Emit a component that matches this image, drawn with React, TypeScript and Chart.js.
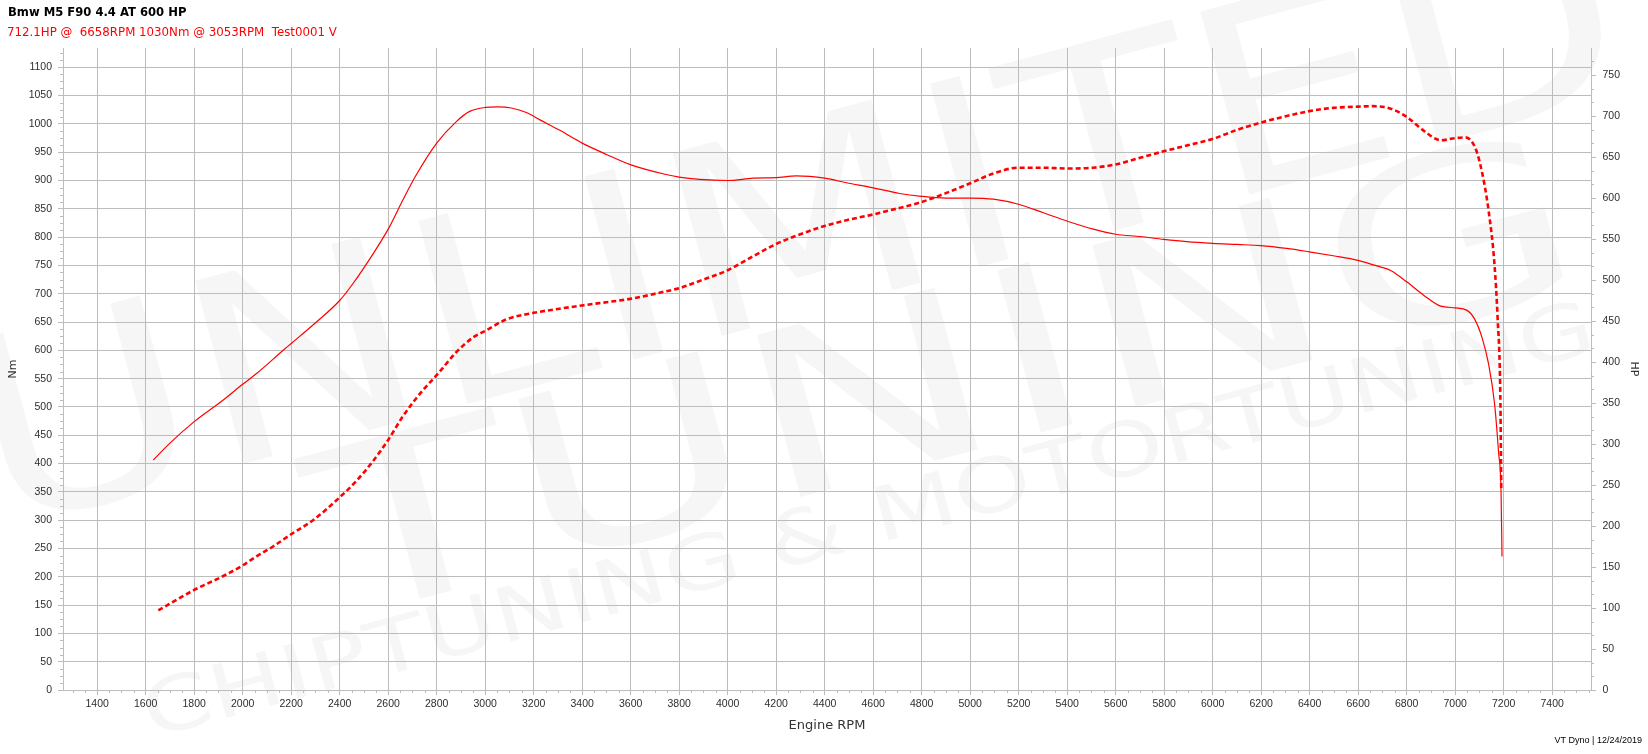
import React, { useEffect, useRef } from 'react';
import { Chart, registerables } from 'chart.js';

Chart.register(...registerables);

const titleText = 'Bmw M5 F90 4.4 AT 600 HP';
const subtitleText = '712.1HP @  6658RPM 1030Nm @ 3053RPM  Test0001 V';
const footerText = 'VT Dyno | 12/24/2019';
const xTitle = 'Engine RPM';
const leftTitle = 'Nm';
const rightTitle = 'HP';

const torqueRpm = [1631, 1700, 1800, 1913, 2000, 2057, 2167, 2200, 2304, 2400, 2455, 2537, 2600, 2661, 2716, 2800, 2881, 2936, 3000, 3053, 3108, 3170, 3226, 3306, 3400, 3500, 3598, 3741, 3800, 3885, 4000, 4105, 4200, 4283, 4400, 4490, 4600, 4709, 4798, 4900, 5000, 5096, 5199, 5302, 5401, 5508, 5600, 5700, 5798, 5893, 5999, 6099, 6198, 6305, 6398, 6497, 6599, 6693, 6734, 6800, 6871, 6940, 7000, 7047, 7079, 7111, 7138, 7162, 7179, 7189, 7193];
const torqueNm = [406, 436, 474, 510, 540, 559, 600, 612, 650, 688, 718, 770, 814, 866, 910, 966, 1004, 1022, 1029, 1030, 1028, 1020, 1007, 989, 966, 946, 928, 911, 906, 902, 900, 904, 905, 908, 904, 896, 887, 877, 872, 869, 869, 867, 858, 843, 828, 814, 805, 801, 796, 792, 789, 787, 785, 780, 774, 767, 759, 747, 741, 721, 697, 678, 675, 671, 656, 622, 575, 507, 419, 352, 236];

const powerRpm = [1652, 1800, 1920, 2000, 2057, 2125, 2200, 2290, 2400, 2469, 2537, 2600, 2661, 2744, 2800, 2881, 2950, 3000, 3087, 3200, 3306, 3400, 3500, 3598, 3741, 3800, 3885, 4000, 4105, 4200, 4283, 4400, 4490, 4600, 4709, 4798, 4900, 5000, 5096, 5199, 5302, 5401, 5508, 5600, 5700, 5798, 5893, 5999, 6099, 6198, 6305, 6398, 6497, 6599, 6658, 6734, 6800, 6871, 6940, 7000, 7042, 7083, 7111, 7138, 7162, 7175, 7186, 7190];
const powerHp = [97, 122, 139, 152, 163, 175, 190, 207, 235, 255, 279, 305, 334, 366, 384, 412, 430, 438, 452, 460, 465, 469, 473, 477, 486, 490, 499, 512, 529, 544, 554, 566, 573, 580, 588, 595, 606, 618, 630, 637, 637, 636, 637, 641, 649, 657, 664, 672, 683, 692, 700, 706, 710, 711.5, 712.1, 709, 699, 682, 670.5, 673, 674, 661, 631, 584, 519, 453, 360, 244];

const rpmTicks = [1400, 1600, 1800, 2000, 2200, 2400, 2600, 2800, 3000, 3200, 3400, 3600, 3800, 4000, 4200, 4400, 4600, 4800, 5000, 5200, 5400, 5600, 5800, 6000, 6200, 6400, 6600, 6800, 7000, 7200, 7400];
const nmTicks = [0, 50, 100, 150, 200, 250, 300, 350, 400, 450, 500, 550, 600, 650, 700, 750, 800, 850, 900, 950, 1000, 1050, 1100];
const hpTicks = [0, 50, 100, 150, 200, 250, 300, 350, 400, 450, 500, 550, 600, 650, 700, 750];

const rpmRange = [1259, 7560];
const nmRange = [0, 1134];
const hpRange = [0, 783];
const rpmMinorStep = 50;
const nmMinorStep = 12.5;
const hpMinorStep = 50 / 3;

const GRID = '#bcbcbc';
const TICK_COLOR = '#2e2e2e';
const RED = '#ff0000';

const watermarkPlugin = {
  id: 'watermark',
  beforeDraw(chart: any) {
    const ctx = chart.ctx;
    const rows: [string, number, number, number, number][] = [
      ['UNLIMITED', 800, 245, 1700, 260],
      ['TUNING', 950, 395, 1300, 230],
      ['CHIPTUNING & MOTORTUNING', 870, 525, 1500, 75],
    ];
    ctx.save();
    for (const [text, cx, cy, len, size] of rows) {
      ctx.save();
      ctx.translate(cx, cy);
      ctx.rotate((-15 * Math.PI) / 180);
      ctx.font = `${size}px "DejaVu Sans"`;
      const w = ctx.measureText(text).width;
      ctx.scale(len / w, 1);
      ctx.textAlign = 'center';
      ctx.textBaseline = 'middle';
      ctx.fillStyle = '#f6f6f6';
      ctx.fillText(text, 0, 0);
      ctx.restore();
    }
    ctx.restore();
  },
};

const textPlugin = {
  id: 'headerFooter',
  afterDraw(chart: any) {
    const ctx = chart.ctx;
    ctx.save();
    ctx.textBaseline = 'middle';
    ctx.textAlign = 'left';
    ctx.fillStyle = '#000000';
    ctx.font = 'bold 11.6px "DejaVu Sans"';
    ctx.fillText(titleText, 8, 13);
    ctx.fillStyle = RED;
    ctx.font = '11.8px "DejaVu Sans"';
    ctx.fillText(subtitleText, 7, 33);
    ctx.fillStyle = '#000000';
    ctx.font = '9px "Liberation Sans"';
    ctx.textAlign = 'right';
    ctx.fillText(footerText, 1642, 741);
    ctx.restore();
  },
};

const minorTickPlugin = {
  id: 'minorTicks',
  afterDraw(chart: any) {
    const ctx = chart.ctx;
    const xs = chart.scales.x;
    const yl = chart.scales.yNm;
    const yr = chart.scales.yHp;
    ctx.save();
    ctx.strokeStyle = GRID;
    ctx.lineWidth = 1;
    ctx.beginPath();
    for (let v = Math.ceil(rpmRange[0] / rpmMinorStep) * rpmMinorStep; v <= rpmRange[1]; v += rpmMinorStep) {
      if (v % 200 === 0) continue;
      const px = Math.round(xs.getPixelForValue(v)) + 0.5;
      ctx.moveTo(px, xs.top);
      ctx.lineTo(px, xs.top + 3);
    }
    for (let i = 1; i * nmMinorStep <= nmRange[1]; i++) {
      if (i % 4 === 0) continue;
      const py = Math.round(yl.getPixelForValue(i * nmMinorStep)) + 0.5;
      ctx.moveTo(yl.right - 3, py);
      ctx.lineTo(yl.right, py);
    }
    for (let i = 1; i * hpMinorStep <= hpRange[1]; i++) {
      if (i % 3 === 0) continue;
      const py = Math.round(yr.getPixelForValue(i * hpMinorStep)) + 0.5;
      ctx.moveTo(yr.left, py);
      ctx.lineTo(yr.left + 3, py);
    }
    ctx.stroke();
    ctx.restore();
  },
};

const tickFont = { family: '"Liberation Sans"', size: 10.5 };

export default function App() {
  const canvasRef = useRef<HTMLCanvasElement | null>(null);

  useEffect(() => {
    if (!canvasRef.current) return;
    const chart = new Chart(canvasRef.current, {
      type: 'line',
      data: {
        datasets: [
          {
            label: 'Nm',
            data: torqueRpm.map((x, i) => ({ x, y: torqueNm[i] })),
            yAxisID: 'yNm',
            borderColor: RED,
            borderWidth: 1.2,
            pointRadius: 0,
            cubicInterpolationMode: 'monotone',
            fill: false,
          },
          {
            label: 'HP',
            data: powerRpm.map((x, i) => ({ x, y: powerHp[i] })),
            yAxisID: 'yHp',
            borderColor: RED,
            borderWidth: 2.6,
            borderDash: [5, 3],
            pointRadius: 0,
            cubicInterpolationMode: 'monotone',
            fill: false,
          },
        ],
      },
      options: {
        animation: false,
        responsive: false,
        devicePixelRatio: 1,
        layout: { padding: { top: 48, left: 0, right: 0, bottom: 0 } },
        plugins: {
          legend: { display: false },
          tooltip: { enabled: false },
          title: { display: false },
        },
        scales: {
          x: {
            type: 'linear',
            position: 'bottom',
            min: rpmRange[0],
            max: rpmRange[1],
            afterBuildTicks: (s: any) => {
              s.ticks = rpmTicks.map((value) => ({ value }));
            },
            afterFit: (s: any) => {
              s.height = 64;
            },
            ticks: {
              autoSkip: false,
              maxRotation: 0,
              padding: 3,
              color: TICK_COLOR,
              font: tickFont,
              callback: (v: any) => String(v),
            },
            grid: { color: GRID, lineWidth: 1, tickLength: 5, drawTicks: true },
            border: { display: true, color: GRID, width: 1 },
            title: {
              display: true,
              text: xTitle,
              color: '#333333',
              font: { family: '"DejaVu Sans"', size: 13 },
              padding: { top: 0, bottom: 21 },
            },
          },
          yNm: {
            type: 'linear',
            position: 'left',
            min: nmRange[0],
            max: nmRange[1],
            afterBuildTicks: (s: any) => {
              s.ticks = nmTicks.map((value) => ({ value }));
            },
            afterFit: (s: any) => {
              s.width = 63;
            },
            ticks: {
              autoSkip: false,
              padding: 6,
              color: TICK_COLOR,
              font: tickFont,
              callback: (v: any) => String(v),
            },
            grid: { color: GRID, lineWidth: 1, tickLength: 5, drawTicks: true },
            border: { display: true, color: GRID, width: 1 },
            title: {
              display: true,
              text: leftTitle,
              color: '#333333',
              font: { family: '"DejaVu Sans"', size: 11 },
              padding: { top: 7, bottom: 0 },
            },
          },
          yHp: {
            type: 'linear',
            position: 'right',
            min: hpRange[0],
            max: hpRange[1],
            afterBuildTicks: (s: any) => {
              s.ticks = hpTicks.map((value) => ({ value }));
            },
            afterFit: (s: any) => {
              s.width = 57;
            },
            ticks: {
              autoSkip: false,
              padding: 6.5,
              color: TICK_COLOR,
              font: tickFont,
              callback: (v: any) => String(v),
            },
            grid: { drawOnChartArea: false, color: GRID, lineWidth: 1, tickLength: 5, drawTicks: true },
            border: { display: true, color: GRID, width: 1 },
            title: {
              display: true,
              text: rightTitle,
              color: '#333333',
              font: { family: '"DejaVu Sans"', size: 11 },
              padding: { top: 7.4, bottom: 0 },
            },
          },
        },
      } as any,
      plugins: [watermarkPlugin, minorTickPlugin, textPlugin],
    });
    return () => chart.destroy();
  }, []);

  return (
    <div style={{ position: 'fixed', left: 0, top: 0, width: 1648, height: 754, background: '#ffffff' }}>
      <canvas ref={canvasRef} width={1648} height={754} style={{ display: 'block' }} />
    </div>
  );
}
